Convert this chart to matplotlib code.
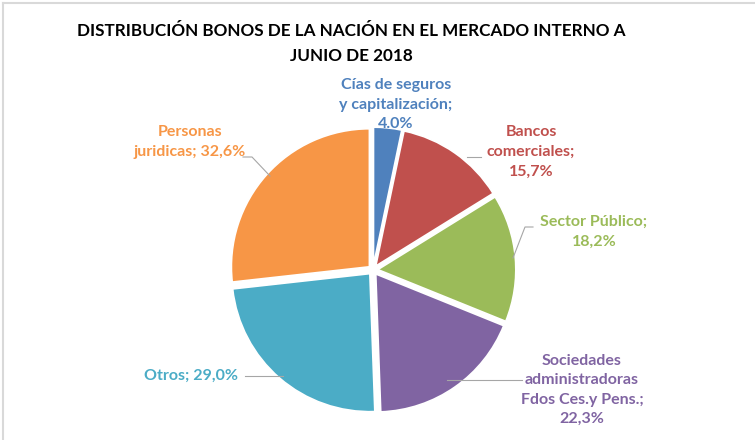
import matplotlib.pyplot as plt
from matplotlib.lines import Line2D

# data
labels = ["Cías de seguros\ny capitalización;\n4.0%",
          "Bancos\ncomerciales;\n15,7%",
          "Sector Público;\n18,2%",
          "Sociedades\nadministradoras\nFdos Ces.y Pens.;\n22,3%",
          "Otros; 29,0%",
          "Personas\njuridicas; 32,6%"]
values = [4.0, 15.7, 18.2, 22.3, 29.0, 32.6]
colors = ["#4F81BD", "#C0504D", "#9BBB59", "#8064A2", "#4BACC6", "#F79646"]

plt.rcParams['font.family'] = ['Lato', 'DejaVu Sans']

W, H = 755, 440
cx, cy, R = 373, 270, 138  # pixel centre/radius of the pie

fig = plt.figure(figsize=(W / 100, H / 100), dpi=100)
ax = fig.add_axes([0, 0, 1, 1])
wedges, _ = ax.pie(values, colors=colors, startangle=90, counterclock=False,
                   explode=[0.035] * 6, radius=1.0,
                   wedgeprops=dict(edgecolor='white', linewidth=1.2))
ax.set_aspect('auto')
ax.set_xlim(-cx / R, (W - cx) / R)
ax.set_ylim(-(H - cy) / R, cy / R)
ax.axis('off')


def P(px, py):
    return ((px - cx) / R, (cy - py) / R)


# frame
fig.add_artist(Line2D([3 / W, 3 / W], [0, 1 - 3 / H], color='#D9D9D9', lw=1.5))
fig.add_artist(Line2D([3 / W, 1], [1 - 3 / H, 1 - 3 / H], color='#D9D9D9', lw=1.5))

# title
fig.text(351 / W, 1 - 31 / H, "DISTRIBUCIÓN BONOS DE LA NACIÓN EN EL MERCADO INTERNO A",
         ha='center', va='center', fontsize=12.3, fontweight='bold', color='black')
fig.text(351 / W, 1 - 56 / H, "JUNIO DE 2018",
         ha='center', va='center', fontsize=12.3, fontweight='bold', color='black')

# label positions in pixels (centre of text block)
pos = [(396, 105), (531, 152), (594, 232), (582, 390), (191, 376), (190, 142)]
for lab, c, (px, py) in zip(labels, colors, pos):
    x, y = P(px, py)
    ax.text(x, y, lab, ha='center', va='center', fontsize=11.5, fontweight='bold',
            color=c, linespacing=1.5, multialignment='center')

# leader lines
leaders = [
    [(467, 157), (481, 157)],
    [(513, 258), (525, 227), (533, 227)],
    [(447, 380), (522, 380)],
    [(245, 376), (283, 376)],
    [(243, 157), (252, 157), (270, 176)],
]
for seg in leaders:
    pts = [P(a, b) for a, b in seg]
    ax.plot([p[0] for p in pts], [p[1] for p in pts], color='#A6A6A6', lw=0.8)

fig.savefig("out.png", dpi=100)
